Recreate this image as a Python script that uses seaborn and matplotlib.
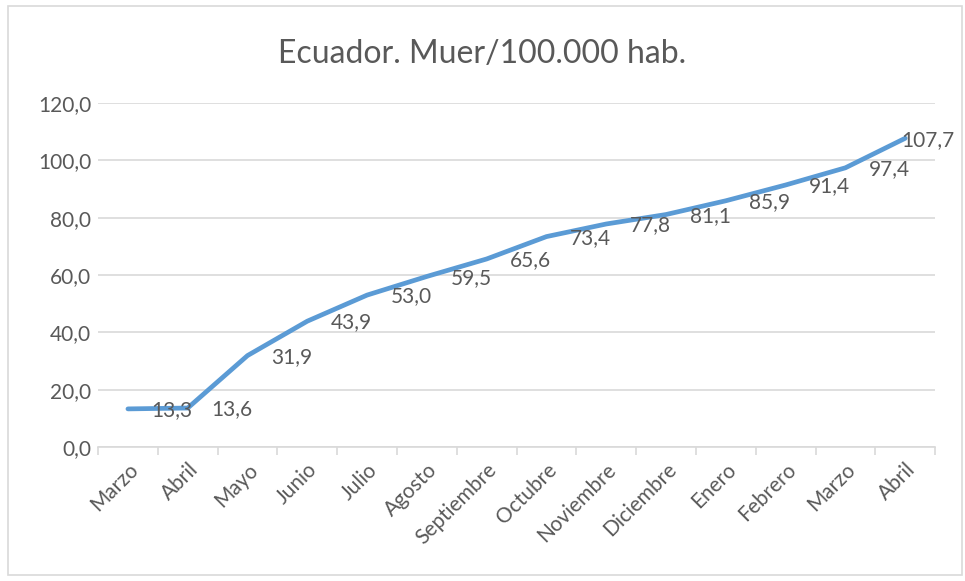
import matplotlib.pyplot as plt
import numpy as np
import pandas as pd
import seaborn as sns
from matplotlib.patches import Rectangle

# data
months = ["Marzo", "Abril", "Mayo", "Junio", "Julio", "Agosto", "Septiembre",
          "Octubre", "Noviembre", "Diciembre", "Enero", "Febrero", "Marzo", "Abril"]
deaths = [13.3, 13.6, 31.9, 43.9, 53.0, 59.5, 65.6, 73.4, 77.8, 81.1, 85.9, 91.4, 97.4, 107.7]
title = "Ecuador. Muer/100.000 hab."

TEXT = "#595959"
GRID = "#D9D9D9"
LINE = "#5B9BD5"


def main():
    sns.set_theme(style="white")
    plt.rcParams["font.family"] = ["Lato", "DejaVu Sans"]

    df = pd.DataFrame({"pos": np.arange(len(months)), "value": deaths})

    fig = plt.figure(figsize=(9.65, 5.81), dpi=100)
    fig.patches.append(Rectangle((8 / 965, 6 / 581), 954 / 965, 569 / 581,
                                 transform=fig.transFigure, fill=False,
                                 edgecolor=GRID, linewidth=1.2))
    ax = fig.add_axes([0.1016, 0.2306, 0.8674, 0.5921])

    sns.lineplot(data=df, x="pos", y="value", ax=ax, color=LINE, linewidth=3.4,
                 sort=False, solid_capstyle="round", solid_joinstyle="round", zorder=3)

    ax.set_xlim(-0.5, len(months) - 0.5)
    ax.set_ylim(0, 120)
    ax.set_yticks(np.arange(0, 121, 20))
    ax.set_yticklabels([f"{v:.1f}".replace(".", ",") for v in np.arange(0, 121, 20)])
    ax.yaxis.grid(True, color=GRID, linewidth=1.2)
    ax.xaxis.grid(False)
    ax.set_axisbelow(True)

    ax.set_xticks(np.arange(len(months)))
    ax.set_xticklabels(months, rotation=45, ha="right", rotation_mode="anchor")
    ax.set_xticks(np.arange(-0.5, len(months)), minor=True)
    ax.tick_params(axis="x", which="major", length=0, pad=9, labelsize=15, labelcolor=TEXT)
    ax.tick_params(axis="x", which="minor", length=6, width=1.2, color=GRID, bottom=True)
    ax.tick_params(axis="y", length=0, pad=5, labelsize=15, labelcolor=TEXT)

    for s in ["top", "right", "left"]:
        ax.spines[s].set_visible(False)
    ax.spines["bottom"].set_color(GRID)
    ax.spines["bottom"].set_linewidth(1.2)

    ax.set_xlabel("")
    ax.set_ylabel("")

    # data labels to the right of each point (last one pulled back inside)
    for i, v in enumerate(deaths):
        dx = 17 if i < len(deaths) - 1 else -3
        ax.annotate(f"{v:.1f}".replace(".", ","), (i, v), xytext=(dx, -1),
                    textcoords="offset points", ha="left", va="center",
                    fontsize=15, color=TEXT, zorder=4)

    fig.text(0.5, 1 - 54 / 581, title, ha="center", va="center",
             fontsize=23, color=TEXT)

    fig.savefig("out.png", dpi=100)
    plt.close(fig)


if __name__ == "__main__":
    main()
